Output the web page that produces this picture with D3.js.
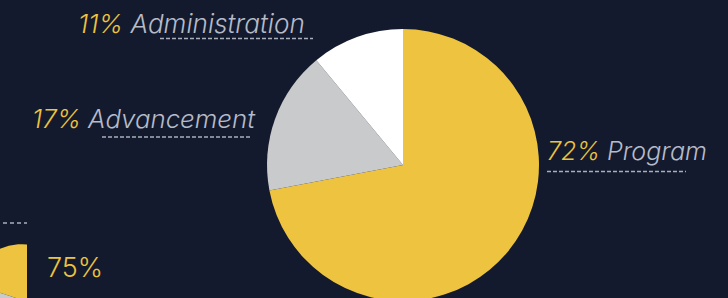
<!DOCTYPE html>
<html>
<head>
<meta charset="utf-8">
<script src="https://cdn.jsdelivr.net/npm/d3@7"></script>
<style>
  html, body { margin: 0; padding: 0; background: #131a2d; }
  svg { display: block; }
  text { font-family: "Inter", "Roboto", "Liberation Sans", sans-serif; }
</style>
</head>
<body>
<svg id="chart" width="728" height="298"></svg>
<script>
// ---- data ----
const categories = ["Program", "Advancement", "Administration"];
const values = [72, 17, 11];
const percentLabels = ["72%", "17%", "11%"];
const sliceColors = ["#edc33f", "#c9cacc", "#ffffff"];

// partially visible neighbouring chart (clipped at the left edge)
const sideValues = [75, 25];
const sideColors = ["#edc33f", "#c9cacc"];
const sideLabel = "75%";

// ---- layout ----
const W = 728, H = 298;
const bg = "#131a2d";
const cx = 403, cy = 165, R = 136;
const labelGray = "#b6bbc9";
const yellow = "#edc33f";
const dashColor = "#a9aebb";

const svg = d3.select("#chart");
svg.append("rect").attr("width", W).attr("height", H).attr("fill", bg);

// side chart fragment
const defs = svg.append("defs");
defs.append("clipPath").attr("id", "sideClip")
  .append("rect").attr("x", 0).attr("y", 0).attr("width", 27).attr("height", H);

const sideStart = 288.4 * Math.PI / 180;
const sidePie = d3.pie().sort(null).value(d => d)
  .startAngle(sideStart).endAngle(sideStart + 2 * Math.PI);
const sideArc = d3.arc().innerRadius(0).outerRadius(55.8);
const sideG = svg.append("g").attr("clip-path", "url(#sideClip)");
sideG.append("g").attr("transform", "translate(22,300)")
  .selectAll("path").data(sidePie(sideValues)).join("path")
  .attr("d", sideArc).attr("fill", (d, i) => sideColors[i]);
sideG.append("line").attr("x1", 3).attr("x2", 27).attr("y1", 223).attr("y2", 223)
  .attr("stroke", dashColor).attr("stroke-width", 1.3).attr("stroke-dasharray", "4,3");
svg.append("text").attr("x", 47).attr("y", 277)
  .attr("fill", yellow).attr("font-size", 27).attr("font-weight", 300)
  .text(sideLabel);

// main pie
const pie = d3.pie().sort(null).value(d => d);
const arc = d3.arc().innerRadius(0).outerRadius(R);
svg.append("g").attr("transform", `translate(${cx},${cy})`)
  .selectAll("path").data(pie(values)).join("path")
  .attr("d", arc).attr("fill", (d, i) => sliceColors[i]);

// labels: anchor positions per category
const labelPos = [
  { x: 547, y: 160, lx1: 547, lx2: 686, ly: 171.5, right: 707 },   // Program
  { x: 32,  y: 128, lx1: 102, lx2: 252, ly: 137,   right: 255 },   // Advancement
  { x: 78,  y: 32.5, lx1: 160, lx2: 313, ly: 38.5, right: 305 }     // Administration
];

categories.forEach((c, i) => {
  const p = labelPos[i];
  const t = svg.append("text")
    .attr("x", p.x).attr("y", p.y)
    .attr("font-size", 24).attr("font-style", "italic").attr("font-weight", 300);
  t.append("tspan").attr("fill", yellow).text(percentLabels[i]);
  t.append("tspan").attr("fill", labelGray).text("\u00a0" + c);
  const w = t.node().getComputedTextLength();
  const target = p.right - p.x;
  t.attr("font-size", (24 * target / w).toFixed(2));
  svg.append("line").attr("x1", p.lx1).attr("x2", p.lx2).attr("y1", p.ly).attr("y2", p.ly)
    .attr("stroke", dashColor).attr("stroke-width", 1.3).attr("stroke-dasharray", "4,2");
});
</script>
</body>
</html>
